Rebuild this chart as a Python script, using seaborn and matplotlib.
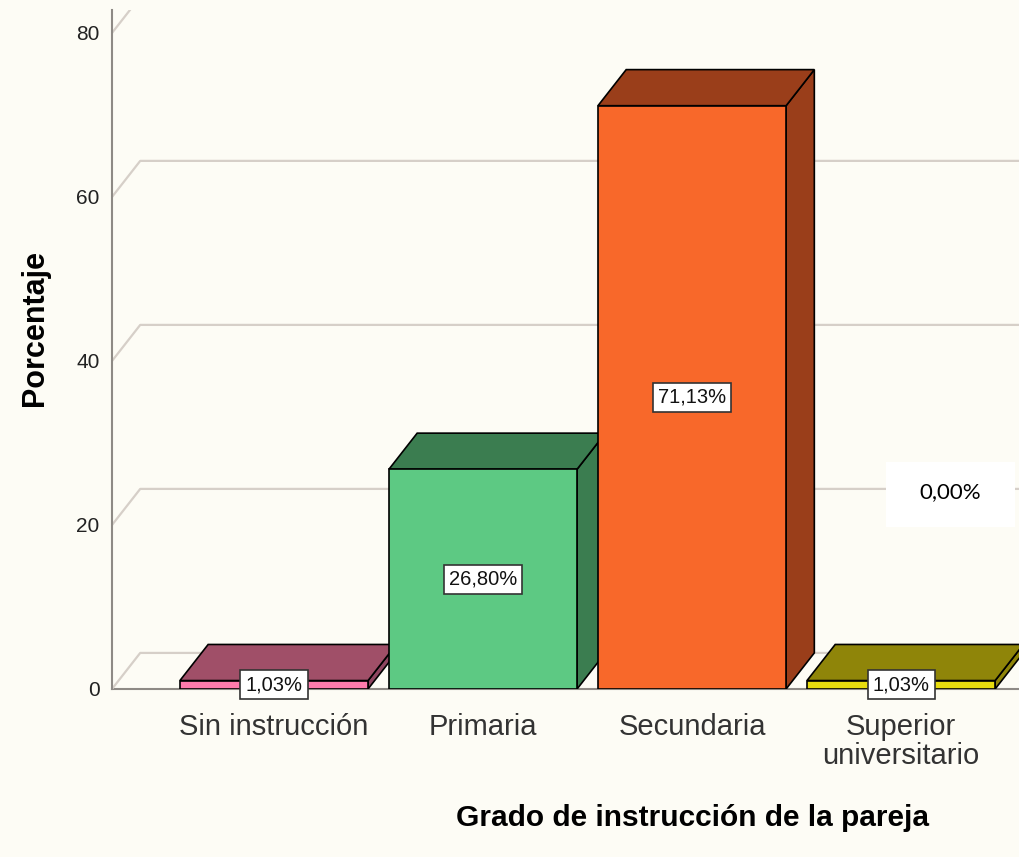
"""3D-style bar chart: Grado de instrucción de la pareja"""
import matplotlib
matplotlib.use('Agg')
import matplotlib.pyplot as plt
from matplotlib.patches import Polygon, Rectangle
import seaborn as sns

categories = ['Sin instrucción', 'Primaria', 'Secundaria', 'Superior\nuniversitario']
percentages = [1.03, 26.80, 71.13, 1.03]
y_ticks = [0, 20, 40, 60, 80]

front_colors = ['#FF7BAC', '#5DC983', '#F8682A', '#E8DC0E']
top_colors = ['#A04F68', '#3B7D50', '#9A3E1A', '#8F8509']
side_colors = ['#8E4560', '#3B7D50', '#9A3E1A', '#8F8509']

BG = '#FDFCF5'
DEPTH_X = 0.135
DEPTH_Y = 4.4

sns.set_theme(style='white')
plt.rcParams['font.family'] = ['Liberation Sans', 'DejaVu Sans']

fig = plt.figure(figsize=(10.2, 8.57), dpi=100, facecolor=BG)
ax = fig.add_axes([112 / 1020, 168 / 857, 908 / 1020, 679 / 857])
ax.set_facecolor(BG)

sns.barplot(x=categories, y=percentages, hue=categories, palette=front_colors,
            saturation=1, width=0.9, edgecolor='black', linewidth=1.2,
            legend=False, ax=ax)

ax.set_xlim(-0.775, 3.569)
ax.set_ylim(0, 82.8)

# back wall grid lines (3D look)
x_left, x_right = ax.get_xlim()
for v in y_ticks:
    ax.plot([x_left, x_left + DEPTH_X, x_right], [v, v + DEPTH_Y, v + DEPTH_Y],
            color='#D6CFC8', lw=1.6, zorder=1, solid_capstyle='butt')

# top and side faces of each bar
for i, bar in enumerate(ax.patches):
    x0 = bar.get_x()
    x1 = x0 + bar.get_width()
    h = bar.get_height()
    top = Polygon([(x0, h), (x0 + DEPTH_X, h + DEPTH_Y), (x1 + DEPTH_X, h + DEPTH_Y), (x1, h)],
                  closed=True, fc=top_colors[i], ec='black', lw=1.2, zorder=2 + i)
    side = Polygon([(x1, 0), (x1 + DEPTH_X, DEPTH_Y), (x1 + DEPTH_X, h + DEPTH_Y), (x1, h)],
                   closed=True, fc=side_colors[i], ec='black', lw=1.2, zorder=2 + i)
    ax.add_patch(side)
    ax.add_patch(top)
    bar.set_zorder(2.5 + i)
    lbl = '{:.2f}%'.format(percentages[i]).replace('.', ',')
    ax.text(x0 + bar.get_width() / 2, h / 2, lbl, ha='center', va='center',
            fontsize=14.5, color='#111111', zorder=20, clip_on=False,
            bbox=dict(boxstyle='square,pad=0.25', fc='white', ec='#333333', lw=1.2))

ax.set_yticks(y_ticks)
ax.set_yticklabels([str(v) for v in y_ticks], fontsize=15, color='#222222')
ax.tick_params(axis='y', length=0, pad=9)
ax.tick_params(axis='x', length=0, pad=17, labelsize=21, labelcolor='#333333')
for t in ax.get_xticklabels():
    t.set_linespacing(1.05)
ax.set_xlabel('')
ax.set_ylabel('')

for s in ['top', 'right']:
    ax.spines[s].set_visible(False)
for s in ['left', 'bottom']:
    ax.spines[s].set_color('#8E8A85')
    ax.spines[s].set_linewidth(1.5)
ax.spines['bottom'].set_zorder(0)

fig.text(35 / 1020, 1 - 328 / 857, 'Porcentaje', rotation=90, ha='center', va='center',
         fontsize=22, fontweight='bold', color='black')
fig.text(693 / 1020, 1 - 818 / 857, 'Grado de instrucción de la pareja', ha='center',
         va='center', fontsize=21.5, fontweight='bold', color='black')

# pasted-on white note box
fig.add_artist(Rectangle((886 / 1020, 1 - 527 / 857), 129 / 1020, 65 / 857,
                         transform=fig.transFigure, fc='white', ec='none', zorder=30))
fig.text(950 / 1020, 1 - 492 / 857, '0,00%', ha='center', va='center', fontsize=16,
         family=['Lato', 'DejaVu Sans'], color='black', zorder=31)

fig.savefig('out.png', dpi=100, facecolor=BG)
